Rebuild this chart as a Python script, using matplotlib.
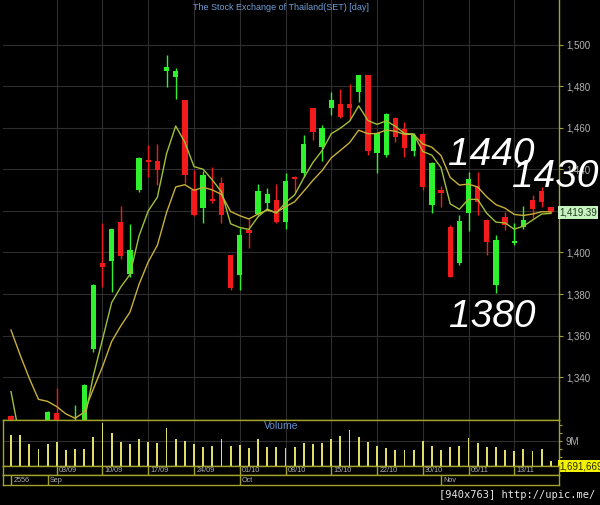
import numpy as np
import matplotlib.pyplot as plt
from matplotlib import transforms

plt.rcParams['font.family'] = ['Liberation Sans', 'DejaVu Sans']

# daily SET index candles, 27/08 - 19/11 (2556)
opens = [1321.4, 1312.0, 1298.0, 1290.0, 1300.0, 1323.0, 1315.0, 1300.0, 1305.0, 1353.5,
         1395.1, 1396.1, 1414.5, 1389.6, 1430.1, 1444.5, 1444.0, 1487.4, 1484.5, 1473.3,
         1430.1, 1421.3, 1425.6, 1433.3, 1398.9, 1389.2, 1410.8, 1418.5, 1423.7, 1425.2,
         1414.8, 1436.5, 1438.1, 1469.3, 1450.6, 1469.6, 1471.4, 1471.3, 1477.3, 1485.3,
         1447.7, 1446.9, 1464.5, 1459.2, 1448.9, 1457.0, 1422.8, 1430.0, 1412.4, 1394.8,
         1418.8, 1432.0, 1415.6, 1384.4, 1416.9, 1404.5, 1412.1, 1425.2, 1429.6, 1421.7]
highs = [1322.0, 1315.0, 1305.0, 1296.0, 1324.0, 1334.7, 1318.0, 1326.7, 1337.0, 1385.0,
         1414.0, 1411.5, 1422.5, 1413.5, 1446.0, 1451.7, 1452.2, 1495.0, 1488.5, 1473.5,
         1439.7, 1439.0, 1440.9, 1436.5, 1399.0, 1411.6, 1415.9, 1433.0, 1431.2, 1433.0,
         1438.1, 1436.7, 1456.5, 1469.5, 1461.5, 1477.3, 1478.4, 1481.2, 1485.5, 1485.5,
         1458.0, 1467.0, 1465.0, 1462.9, 1457.5, 1457.5, 1443.5, 1431.9, 1413.0, 1418.0,
         1438.5, 1438.9, 1416.0, 1408.4, 1419.6, 1414.0, 1422.2, 1427.6, 1431.4, 1422.0]
lows = [1305.0, 1292.0, 1282.0, 1275.0, 1298.0, 1312.0, 1303.0, 1296.0, 1303.0, 1352.0,
        1383.6, 1381.2, 1397.0, 1388.0, 1429.3, 1436.4, 1432.5, 1479.7, 1473.7, 1433.3,
        1417.5, 1414.1, 1424.0, 1414.1, 1382.0, 1382.0, 1402.0, 1418.0, 1420.5, 1414.0,
        1411.1, 1429.3, 1436.5, 1454.1, 1443.8, 1466.2, 1464.5, 1463.5, 1472.5, 1446.9,
        1438.4, 1446.0, 1453.0, 1446.1, 1446.4, 1430.0, 1419.1, 1421.7, 1388.0, 1394.0,
        1410.3, 1418.0, 1398.8, 1380.4, 1410.8, 1403.7, 1411.5, 1416.4, 1422.1, 1418.8]
closes = [1310.0, 1296.7, 1289.1, 1283.9, 1323.5, 1315.1, 1306.6, 1310.8, 1336.4, 1384.5,
          1393.2, 1411.1, 1398.3, 1401.2, 1445.3, 1443.5, 1439.7, 1489.3, 1487.2, 1437.3,
          1418.1, 1437.3, 1424.7, 1417.8, 1382.9, 1408.4, 1409.2, 1429.6, 1428.0, 1414.8,
          1434.4, 1435.2, 1452.2, 1458.1, 1460.0, 1473.3, 1465.0, 1469.6, 1485.3, 1449.0,
          1457.6, 1466.6, 1455.4, 1450.1, 1456.5, 1431.3, 1443.2, 1428.7, 1388.4, 1415.3,
          1435.3, 1424.3, 1405.2, 1406.0, 1413.2, 1405.0, 1415.6, 1420.9, 1424.5, 1419.39]

# the two average lines as drawn on the chart
ma_fast = [1333.1, 1310.0, 1310.4, 1301.5, 1308.9, 1311.0, 1309.5, 1309.9, 1318.8, 1340.7,
           1358.2, 1375.9, 1383.4, 1389.4, 1408.1, 1420.0, 1426.6, 1447.5, 1460.8, 1453.0,
           1441.3, 1440.0, 1434.9, 1429.2, 1413.8, 1412.0, 1411.1, 1417.2, 1420.9, 1418.9,
           1424.0, 1427.7, 1435.9, 1443.3, 1449.0, 1457.1, 1459.8, 1463.1, 1470.5, 1463.5,
           1461.6, 1463.3, 1460.7, 1457.2, 1457.0, 1448.6, 1446.8, 1440.8, 1423.4, 1420.8,
           1425.6, 1425.5, 1418.8, 1414.6, 1414.2, 1411.2, 1412.7, 1415.6, 1418.5, 1418.8]
ma_slow = [1362.7, 1350.7, 1339.5, 1329.4, 1328.4, 1325.9, 1322.4, 1320.3, 1323.2, 1334.4,
           1345.1, 1357.2, 1364.7, 1371.3, 1384.8, 1395.5, 1403.5, 1419.2, 1431.5, 1432.6,
           1429.9, 1431.3, 1430.1, 1427.9, 1419.7, 1417.7, 1416.1, 1418.5, 1420.3, 1419.3,
           1422.0, 1424.4, 1429.5, 1434.7, 1439.4, 1445.5, 1449.1, 1452.8, 1458.8, 1457.1,
           1457.2, 1458.9, 1458.3, 1456.8, 1456.8, 1452.2, 1450.6, 1446.6, 1436.1, 1432.4,
           1432.9, 1431.5, 1426.7, 1423.0, 1421.3, 1418.3, 1417.8, 1418.5, 1419.6, 1419.5]

# volume in millions
volume = [11.4, 11.4, 7.8, 6.1, 7.8, 8.7, 5.7, 6.1, 6.1, 10.6,
          15.8, 12.1, 8.5, 7.8, 9.9, 8.5, 8.3, 13.9, 9.8, 9.1,
          7.8, 6.7, 7.3, 9.9, 7.3, 7.5, 6.4, 9.6, 6.8, 7.0,
          6.4, 6.8, 8.3, 7.8, 8.3, 9.7, 10.8, 13.0, 10.6, 8.7,
          7.2, 6.3, 5.6, 5.8, 5.6, 9.1, 7.3, 5.8, 6.9, 7.3,
          10.2, 8.3, 6.9, 6.9, 5.8, 5.4, 6.2, 5.4, 6.1, 1.69]
last_volume_text = "1,691,669"

week_pos = [5, 10, 15, 20, 25, 30, 35, 40, 45, 50, 55]
week_labels = ["03/09", "10/09", "17/09", "24/09", "01/10", "08/10",
               "15/10", "22/10", "30/10", "06/11", "13/11"]
month_pos = [0, 4, 25, 47]
month_labels = ["2556", "Sep", "Oct", "Nov"]

price_ticks = [1340, 1360, 1380, 1400, 1420, 1440, 1460, 1480, 1500]

# hand-written marks on the picture
notes = [("1440", 47.8, 1442.1), ("1430", 54.75, 1431.5), ("1380", 47.9, 1364.2)]

OLIVE = "#a3a32b"
GRID = "#2e2e2e"
TXT = "#b4b4b4"
UP = "#2df22d"
DOWN = "#f21a1a"

W, H = 600, 505
fig = plt.figure(figsize=(W / 100, H / 100), dpi=100, facecolor="black")

def rect(top, bottom):
    return [3 / W, 1 - bottom / H, 556 / W, (bottom - top) / H]

ax = fig.add_axes(rect(0, 419.5))
axv = fig.add_axes(rect(419.5, 465.7))
axd = fig.add_axes(rect(465.7, 475.3))
axm = fig.add_axes(rect(475.3, 484.7))

x = np.arange(len(closes))
xlim = (-0.874, 59.89)
for a in (ax, axv, axd, axm):
    a.set_facecolor("black")
    a.set_xlim(*xlim)
    for s in a.spines.values():
        s.set_color(OLIVE)
        s.set_linewidth(1)

# ---- price panel
ax.set_ylim(1319.7, 1521.4)
ax.spines["left"].set_visible(False)
ax.spines["top"].set_visible(False)
ax.yaxis.tick_right()
ax.set_yticks(price_ticks)
ax.set_yticklabels([f"{t:,}" for t in price_ticks])
ax.tick_params(axis="y", colors=OLIVE, labelcolor=TXT, labelsize=7, length=3, width=0.8, pad=2)
ax.set_xticks(week_pos)
ax.tick_params(axis="x", length=0, labelbottom=False)
ax.grid(True, color=GRID, lw=0.8)
ax.set_axisbelow(True)

o = np.array(opens)
c = np.array(closes)
up = c >= o
cols = np.where(up, UP, DOWN)
ax.vlines(x, lows, highs, colors=cols, lw=1, zorder=3)
body_lo = np.minimum(o, c)
body_h = np.maximum(np.abs(c - o), 0.9)
ax.bar(x, body_h, bottom=body_lo, width=0.58, color=cols, zorder=4)

ax.plot(x, ma_slow, color="#c9b03a", lw=1, zorder=5)
ax.plot(x, ma_fast, color="#a2c038", lw=1, zorder=5)

ax.text(0.5, 0.981, "The Stock Exchange of Thailand(SET) [day]", transform=ax.transAxes,
        ha="center", va="center", color="#6f9fd8", fontsize=6.5)

tr = transforms.blended_transform_factory(ax.transAxes, ax.transData)
ax.text(1.0, closes[-1], f"{closes[-1]:,.2f}", transform=tr, ha="left", va="center",
        fontsize=7, color="#1e3a1e", zorder=8,
        bbox=dict(boxstyle="square,pad=0.15", fc="#c6f2bf", ec="none"))

for label, nx, ny in notes:
    ax.text(nx, ny, label, color="white", fontsize=28, style="italic",
            ha="left", va="baseline", zorder=10)

# ---- volume panel
axv.set_ylim(0, 16.9)
axv.bar(x, volume, width=0.2, color="#dede66", zorder=3)
axv.yaxis.tick_right()
axv.set_yticks([3, 6, 9, 12, 15])
axv.set_yticklabels(["", "", "9M", "", ""])
axv.tick_params(axis="y", colors=OLIVE, labelcolor=TXT, labelsize=7, length=2, width=0.8, pad=3)
axv.set_xticks(week_pos)
axv.tick_params(axis="x", length=0, labelbottom=False)
axv.grid(True, axis="x", color=GRID, lw=0.8)
axv.axhline(9, color=GRID, lw=0.8, zorder=1)
axv.set_axisbelow(True)
axv.text(0.5, 0.866, "Volume", transform=axv.transAxes, ha="center", va="center",
         color="#5f90d0", fontsize=7.5)
trv = transforms.blended_transform_factory(axv.transAxes, axv.transData)
axv.text(1.0, volume[-1], last_volume_text, transform=trv, ha="left", va="top",
         fontsize=7, color="#2a2a00", zorder=8,
         bbox=dict(boxstyle="square,pad=0.12", fc="#f2f200", ec="none"))

# ---- date rows
for a in (axd, axm):
    a.set_ylim(0, 1)
    a.set_xticks([])
    a.set_yticks([])

for p, lab in zip(week_pos, week_labels):
    axd.axvline(p, color=OLIVE, lw=1)
    axd.text(p + 0.25, 0.45, lab, ha="left", va="center", color=TXT, fontsize=5.2)

for p, lab in zip(month_pos, month_labels):
    axm.axvline(p, color=OLIVE, lw=1)
    axm.text(p + 0.25, 0.45, lab, ha="left", va="center", color=TXT, fontsize=5.2)

fig.text(0.992, 1 - 494.5 / H, "[940x763] http://upic.me/", ha="right", va="center",
         color="#e6e6e6", fontsize=7.5, family="DejaVu Sans Mono")

fig.savefig("out.png", dpi=100, facecolor="black")
